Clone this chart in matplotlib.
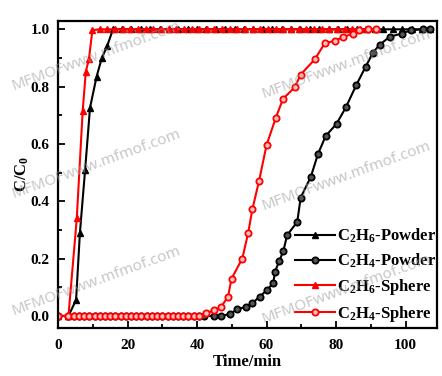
import numpy as np
import matplotlib
matplotlib.use("Agg")
import matplotlib.pyplot as plt
from matplotlib.ticker import MultipleLocator

# C2H6 on powder (black triangles)
c2h6_powder_t = [0, 3, 5.2, 6.3, 7.8, 9.2, 11.1, 12.6, 14.1, 15.8, 18.4, 21.1, 23.8,
                 26.5, 29.2, 31.9, 34.6, 37.3, 40.0, 42.7, 45.4, 48.1, 50.8, 53.5,
                 56.2, 58.9, 61.6, 64.3, 67.0, 69.7, 72.4, 75.1, 77.8, 80.5, 83.2,
                 85.9, 88.6, 91.3, 93.4, 96.3, 98.9, 101.7, 104.6, 107.0]
c2h6_powder_c = [0, 0, 0.056, 0.29, 0.51, 0.726, 0.835, 0.90, 0.94, 1.0, 1.0, 1.0, 1.0,
                 1.0, 1.0, 1.0, 1.0, 1.0, 1.0, 1.0, 1.0, 1.0, 1.0, 1.0,
                 1.0, 1.0, 1.0, 1.0, 1.0, 1.0, 1.0, 1.0, 1.0, 1.0, 1.0,
                 1.0, 1.0, 1.0, 1.0, 1.0, 1.0, 1.0, 1.0, 1.0]

# C2H4 on powder (black circles)
c2h4_powder_t = [0, 3, 4.5, 6, 7.5, 9, 10.5, 12, 13.5, 15, 16.5, 18, 19.5, 21, 22.5,
                 24, 25.5, 27, 28.5, 30, 31.5, 33, 34.5, 36, 37.5, 39, 40.5, 42,
                 44.9, 47.0, 49.4, 51.6, 54.0, 55.8, 58.0, 60.0, 61.9, 62.4, 63.6,
                 64.8, 65.9, 68.8, 69.8, 72.7, 74.8, 77.0, 80.1, 82.8, 85.8, 88.5,
                 90.6, 92.5, 95.4, 98.8, 101.6, 105.0, 106.9]
c2h4_powder_c = [0, 0, 0, 0, 0, 0, 0, 0, 0, 0, 0, 0, 0, 0, 0,
                 0, 0, 0, 0, 0, 0, 0, 0, 0, 0, 0, 0, 0,
                 0, 0, 0.007, 0.023, 0.032, 0.044, 0.067, 0.09, 0.114, 0.154, 0.191,
                 0.226, 0.282, 0.328, 0.413, 0.485, 0.566, 0.628, 0.67, 0.728, 0.806, 0.87,
                 0.919, 0.946, 0.974, 0.985, 0.997, 1.0, 1.0]

# C2H6 on sphere (red triangles)
c2h6_sphere_t = [0, 3, 5.4, 7.1, 8.0, 8.9, 9.9, 12.0, 14.2, 16.4, 18.6, 20.8, 23.0,
                 25.2, 27.4, 29.6, 31.8, 34.0, 36.2, 38.4, 40.6, 42.8, 45.0, 47.2,
                 49.4, 51.6, 53.8, 56.0, 58.2, 60.4, 62.6, 64.8, 67.0, 69.2, 71.4,
                 73.6, 75.8, 78.0, 80.2, 82.4, 84.6, 86.8, 89.0, 91.6]
c2h6_sphere_c = [0, 0, 0.34, 0.716, 0.852, 0.897, 0.997, 1.0, 1.0, 1.0, 1.0, 1.0, 1.0,
                 1.0, 1.0, 1.0, 1.0, 1.0, 1.0, 1.0, 1.0, 1.0, 1.0, 1.0,
                 1.0, 1.0, 1.0, 1.0, 1.0, 1.0, 1.0, 1.0, 1.0, 1.0, 1.0,
                 1.0, 1.0, 1.0, 1.0, 1.0, 1.0, 1.0, 1.0, 1.0]

# C2H4 on sphere (red circles)
c2h4_sphere_t = [0, 3, 4.5, 6, 7.5, 9, 10.5, 12, 13.5, 15, 16.5, 18, 19.5, 21, 22.5,
                 24, 25.5, 27, 28.5, 30, 31.5, 33, 34.5, 36, 37.5, 39, 40.5, 42.7,
                 44.9, 46.8, 48.9, 49.9, 53.0, 54.7, 55.9, 57.8, 60.0, 62.6, 64.7,
                 68.1, 69.8, 73.9, 76.7, 79.6, 82.0, 84.9, 86.6, 89.2, 91.6]
c2h4_sphere_c = [0, 0, 0, 0, 0, 0, 0, 0, 0, 0, 0, 0, 0, 0, 0,
                 0, 0, 0, 0, 0, 0, 0, 0, 0, 0, 0, 0, 0.01,
                 0.02, 0.03, 0.067, 0.13, 0.2, 0.29, 0.372, 0.47, 0.597, 0.69, 0.757,
                 0.798, 0.842, 0.896, 0.951, 0.96, 0.973, 0.985, 0.997, 1.0, 1.0]

labels = [r'C$_2$H$_6$-Powder', r'C$_2$H$_4$-Powder',
          r'C$_2$H$_6$-Sphere', r'C$_2$H$_4$-Sphere']

watermark = 'MFMOFwww.mfmof.com'
wm_pos = [(96, 56), (96, 164), (96, 281), (346, 64), (346, 176), (346, 289)]

plt.rcParams.update({
    'font.family': 'Liberation Serif',
    'font.weight': 'bold',
    'mathtext.fontset': 'custom',
    'mathtext.bf': 'Liberation Serif:bold',
    'mathtext.rm': 'Liberation Serif:bold',
    'mathtext.default': 'bf',
})

W, H = 442, 376
fig = plt.figure(figsize=(W / 100, H / 100), dpi=100)
ax = fig.add_axes([58 / W, 1 - 328 / H, (437 - 58) / W, (328 - 20.7) / H])

lw = 1.5
ax.plot(c2h6_powder_t, c2h6_powder_c, color='black', lw=lw, marker='^', ms=5,
        mfc='black', mec='black', label=labels[0])
ax.plot(c2h4_powder_t, c2h4_powder_c, color='black', lw=lw, marker='o', ms=4.5,
        mfc='#555555', mec='black', mew=1.3, label=labels[1])
ax.plot(c2h6_sphere_t, c2h6_sphere_c, color='red', lw=lw, marker='^', ms=5,
        mfc='red', mec='red', label=labels[2])
ax.plot(c2h4_sphere_t, c2h4_sphere_c, color='red', lw=lw, marker='o', ms=4.5,
        mfc='#ffc0c0', mec='red', mew=1.3, label=labels[3])

ax.set_xlim(0, 109)
ax.set_ylim(-0.042, 1.03)
ax.xaxis.set_major_locator(MultipleLocator(20))
ax.xaxis.set_minor_locator(MultipleLocator(10))
ax.yaxis.set_major_locator(MultipleLocator(0.2))
ax.yaxis.set_minor_locator(MultipleLocator(0.1))
ax.yaxis.set_major_formatter(matplotlib.ticker.FormatStrFormatter('%.1f'))
ax.tick_params(which='both', direction='in', width=1.3, labelsize=11)
ax.tick_params(which='major', length=5)
ax.tick_params(which='minor', length=3)
ax.tick_params(axis='x', pad=8)
ax.tick_params(axis='y', pad=6)
for s in ax.spines.values():
    s.set_linewidth(1.6)

ax.set_xlabel('Time/min', fontsize=12, fontweight='bold', labelpad=1)
ax.set_ylabel(r'C/C$_0$', fontsize=12, fontweight='bold', labelpad=0)

ax.legend(loc='lower right', bbox_to_anchor=(1.025, -0.02), frameon=False,
          fontsize=12, handlelength=2.4, handletextpad=0.15, labelspacing=0.42,
          borderaxespad=0.2)

for (px, py) in wm_pos:
    fig.text(px / W, 1 - py / H, watermark, rotation=20, ha='center', va='center',
             fontsize=11, family='Noto Sans', fontweight='normal',
             color='#999999', alpha=0.55)

fig.savefig('out.png', dpi=100)
